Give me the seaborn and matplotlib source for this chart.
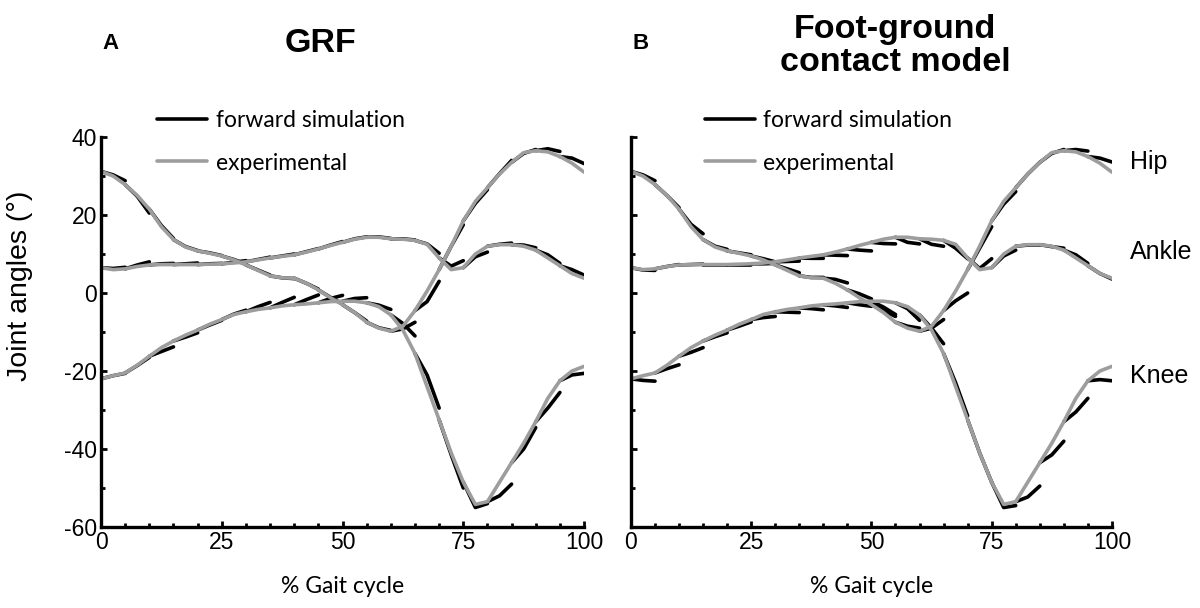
from matplotlib import pyplot as plt
from matplotlib.ticker import MultipleLocator

import numpy as np

import pandas as pd

import seaborn as sns

# % gait cycle sampled every 2.5 %
gait_pct = np.arange(0, 100.1, 2.5)

# experimental joint angles (deg), same in both panels
hip_exp = [31.2, 30.0, 27.8, 25.0, 21.5, 17.0, 13.7, 11.8, 10.8, 10.2, 9.5,
           8.5, 7.2, 5.8, 4.4, 3.9, 3.8, 2.5, 0.8, -1.2, -3.0, -5.0, -7.5,
           -9.0, -9.8, -8.5, -4.5, 0.5, 6.0, 12.0, 18.5, 23.5, 27.0, 30.5,
           33.5, 36.0, 36.5, 36.2, 35.0, 33.3, 31.0]
ankle_exp = [6.5, 6.0, 6.2, 6.8, 7.2, 7.3, 7.3, 7.3, 7.3, 7.4, 7.5, 7.7, 8.0,
             8.5, 9.0, 9.4, 9.8, 10.5, 11.3, 12.2, 13.0, 13.8, 14.3, 14.3,
             13.9, 13.8, 13.5, 12.5, 9.0, 6.0, 6.5, 10.0, 12.0, 12.4, 12.4,
             12.0, 11.0, 9.0, 7.0, 5.0, 3.8]
knee_exp = [-22.0, -21.2, -20.5, -18.5, -16.2, -14.0, -12.3, -10.8, -9.5,
            -8.0, -6.8, -5.5, -4.8, -4.2, -3.8, -3.3, -3.0, -2.8, -2.5, -2.2,
            -2.1, -2.1, -2.5, -3.5, -5.6, -9.5, -15.5, -24.0, -32.5, -41.0,
            -48.5, -54.2, -53.5, -48.5, -43.5, -38.5, -33.0, -27.0, -22.5,
            -20.0, -18.8]

# forward simulation: one piece per 5 % window, starting on the experimental
# value; values at the window middle and at the window end
seg_start = np.arange(0, 100, 5)

# panel A (GRF)
hip_mid_a = [30.3, 24.8, 17.3, 11.9, 10.3, 8.6, 5.9, 3.9, 2.5, -1.1,
             -5.0, -8.9, -9.2, -2.2, 12.0, 23.0, 30.6, 35.8, 37.0, 34.6]
hip_end_a = [28.8, 20.5, 14.0, 10.9, 9.6, 7.4, 4.6, 3.7, 1.0, -2.8,
             -7.2, -9.6, -7.5, 3.0, 17.5, 26.5, 34.0, 36.8, 36.3, 33.2]
ankle_mid_a = [6.3, 7.2, 7.5, 7.5, 7.5, 7.9, 8.6, 9.5, 10.6, 12.3,
               13.9, 14.4, 13.9, 12.6, 6.9, 9.3, 12.5, 12.3, 9.8, 6.0]
ankle_end_a = [6.6, 8.0, 7.6, 7.7, 7.6, 8.3, 9.2, 10.0, 11.4, 13.2,
               14.4, 14.0, 13.6, 10.2, 8.3, 10.5, 12.8, 11.6, 7.6, 4.6]
knee_mid_a = [-21.2, -18.6, -15.0, -11.3, -8.2, -5.4, -3.5, -2.4, -1.7, -1.4,
              -1.4, -3.1, -7.8, -21.0, -41.5, -55.0, -52.0, -40.0, -29.5, -21.0]
knee_end_a = [-20.6, -16.5, -13.8, -10.2, -7.0, -4.4, -2.4, -1.1, -0.5, -0.6,
              -1.2, -4.2, -11.0, -29.5, -50.0, -54.0, -49.0, -34.5, -25.5, -20.6]

# panel B (foot-ground contact model)
hip_mid_b = [30.3, 25.0, 17.6, 12.0, 10.3, 8.8, 6.2, 4.0, 3.5, -0.2,
             -4.5, -8.5, -9.0, -2.0, 11.5, 22.8, 30.5, 35.8, 36.8, 34.6]
hip_end_b = [28.8, 21.9, 15.2, 11.2, 9.8, 8.0, 5.2, 4.0, 2.6, -1.5,
             -6.0, -9.0, -6.8, 0.0, 17.0, 26.0, 33.5, 36.8, 36.4, 33.6]
ankle_mid_b = [5.9, 6.8, 7.3, 7.3, 7.3, 7.5, 8.1, 8.9, 9.7, 11.0,
               12.7, 13.0, 12.5, 11.5, 6.3, 9.5, 12.3, 11.9, 9.8, 5.0]
ankle_end_b = [5.8, 7.3, 7.4, 7.3, 7.3, 7.6, 8.2, 8.9, 9.6, 10.8,
               12.6, 12.6, 12.0, 8.8, 8.8, 11.0, 12.3, 11.5, 7.6, 3.6]
knee_mid_b = [-22.4, -19.4, -15.2, -11.2, -8.5, -6.3, -4.9, -4.0, -3.3, -3.0,
              -3.6, -4.0, -9.0, -23.0, -41.0, -55.0, -52.3, -41.5, -30.5, -22.2]
knee_end_b = [-22.6, -18.4, -14.0, -10.2, -7.4, -6.0, -5.0, -4.3, -3.7, -3.4,
              -5.5, -7.0, -13.0, -31.5, -48.5, -54.5, -49.5, -38.0, -27.0, -22.5]

joint_names = ['Hip', 'Ankle', 'Knee']
x_ticks = [0, 25, 50, 75, 100]
y_ticks = [-60, -40, -20, 0, 20, 40]

GREY = '#9d9d9d'


def build_frame(sim):
    exp = {'Hip': hip_exp, 'Ankle': ankle_exp, 'Knee': knee_exp}
    rows = []
    for joint in joint_names:
        for x, v in zip(gait_pct, exp[joint]):
            rows.append((x, v, 'experimental', joint))
        mids, ends = sim[joint]
        for k, s in enumerate(seg_start):
            unit = joint + str(k)
            rows.append((s, exp[joint][2 * k], 'forward simulation', unit))
            rows.append((s + 2.5, mids[k], 'forward simulation', unit))
            rows.append((s + 5, ends[k], 'forward simulation', unit))
    return pd.DataFrame(rows, columns=['pct', 'angle', 'source', 'unit'])


sns.set_style('white')
plt.rcParams['font.family'] = ['Liberation Sans', 'DejaVu Sans']
plt.rcParams['axes.unicode_minus'] = False
for key in ['text.color', 'axes.labelcolor', 'xtick.color', 'ytick.color']:
    plt.rcParams[key] = 'black'

fig = plt.figure(figsize=(12, 6.08), dpi=100)
ax_a = fig.add_axes([0.0842, 0.1332, 0.4025, 0.6414])
ax_b = fig.add_axes([0.5258, 0.1332, 0.4008, 0.6414])

panels = [
    (ax_a, {'Hip': (hip_mid_a, hip_end_a), 'Ankle': (ankle_mid_a, ankle_end_a),
            'Knee': (knee_mid_a, knee_end_a)}, 0.116),
    (ax_b, {'Hip': (hip_mid_b, hip_end_b), 'Ankle': (ankle_mid_b, ankle_end_b),
            'Knee': (knee_mid_b, knee_end_b)}, 0.154),
]

for ax, sim, leg_x in panels:
    df = build_frame(sim)
    sns.lineplot(data=df, x='pct', y='angle', hue='source',
                 hue_order=['forward simulation', 'experimental'],
                 palette=['black', GREY], units='unit', estimator=None,
                 sort=False, lw=2.6, ax=ax)
    ax.set_xlim(0, 100)
    ax.set_ylim(-60, 40)
    ax.set_xticks(x_ticks)
    ax.set_yticks(y_ticks)
    ax.xaxis.set_minor_locator(MultipleLocator(5))
    ax.yaxis.set_minor_locator(MultipleLocator(10))
    ax.tick_params(which='both', direction='in', width=2, color='black',
                   labelsize=16.5, pad=3, bottom=True, left=True)
    ax.tick_params(which='major', length=4)
    ax.tick_params(which='minor', length=3)
    sns.despine(ax=ax)
    for side in ['left', 'bottom']:
        ax.spines[side].set_linewidth(2.4)
        ax.spines[side].set_color('black')
    ax.set_xlabel('% Gait cycle', family='Lato', fontsize=16.5)
    ax.xaxis.set_label_coords(0.5, -0.125)
    ax.set_ylabel('')
    sns.move_legend(ax, 'upper left', bbox_to_anchor=(leg_x, 1.07),
                    frameon=False, title=None, borderpad=0,
                    borderaxespad=0, handlelength=2.2, handletextpad=0.35,
                    labelspacing=0.95, prop={'family': 'Lato', 'size': 16.5})

ax_b.tick_params(labelleft=False)

# joint names at the right end of panel B
for name, yv in zip(joint_names, [33.6, 10.4, -21.4]):
    ax_b.text(103.7, yv, name, fontsize=18, va='center', ha='left',
              clip_on=False)

fig.text(0.017, 0.53, 'Joint angles (°)', rotation=90, fontsize=20.5,
         va='center', ha='center')
fig.text(0.092, 0.929, 'A', fontsize=16, weight='bold', va='center',
         ha='center')
fig.text(0.267, 0.929, 'GRF', fontsize=24.5, weight='bold', va='center',
         ha='center')
fig.text(0.534, 0.929, 'B', fontsize=16, weight='bold', va='center',
         ha='center')
fig.text(0.746, 0.924, 'Foot-ground\ncontact model', fontsize=24.5,
         weight='bold', va='center', ha='center', linespacing=1.08)

fig.savefig('out.png', dpi=100)
plt.close(fig)
